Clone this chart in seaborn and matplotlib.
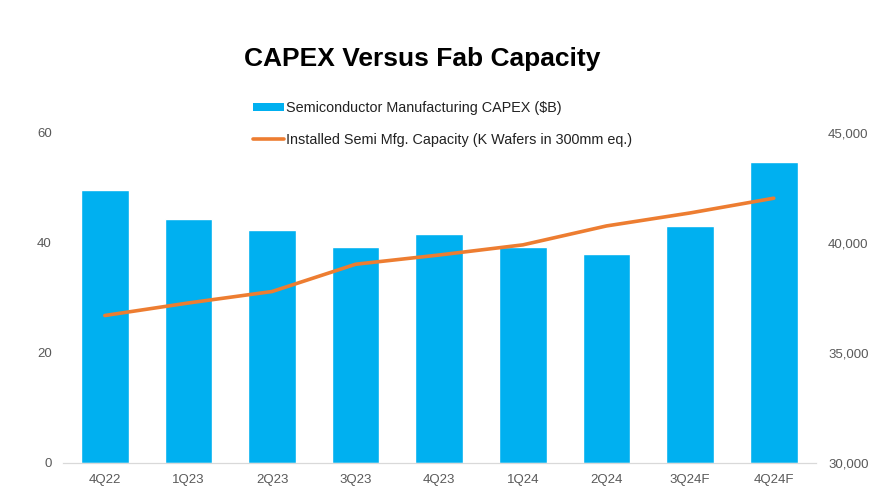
import matplotlib
matplotlib.use("Agg")
import matplotlib.pyplot as plt
import seaborn as sns
import pandas as pd
from matplotlib.patches import Patch
from matplotlib.lines import Line2D
from matplotlib.ticker import FuncFormatter

quarters = ['4Q22', '1Q23', '2Q23', '3Q23', '4Q23', '1Q24', '2Q24', '3Q24F', '4Q24F']
capex = [49.6, 44.4, 42.4, 39.3, 41.6, 39.3, 38.0, 43.1, 54.7]
capacity = [36700, 37270, 37790, 39030, 39450, 39910, 40770, 41360, 42030]

bar_color = '#00B0F0'
line_color = '#ED7D31'
text_gray = '#595959'

df = pd.DataFrame({'Quarter': quarters, 'CAPEX': capex, 'Capacity': capacity})

sns.set_style('white')
plt.rcParams['font.family'] = ['Liberation Sans', 'DejaVu Sans']

fig = plt.figure(figsize=(8.7, 4.92), dpi=100)
ax = fig.add_axes([0.0724, 0.059, 0.865, 0.671])

sns.barplot(data=df, x='Quarter', y='CAPEX', color=bar_color, width=0.57,
            saturation=1, ax=ax)
ax.set_ylim(0, 60)
ax.set_yticks([0, 20, 40, 60])
ax.set_xlim(-0.5, 8.5)

ax2 = ax.twinx()
sns.lineplot(data=df, x='Quarter', y='Capacity', sort=False, color=line_color,
             linewidth=2.6, ax=ax2)
ax2.set_ylim(30000, 45000)
ax2.set_yticks([30000, 35000, 40000, 45000])
ax2.yaxis.set_major_formatter(FuncFormatter(lambda v, p: f'{int(v):,}'))

for a in (ax, ax2):
    a.set_xlabel('')
    a.set_ylabel('')
    for s in ['top', 'left', 'right']:
        a.spines[s].set_visible(False)
    a.spines['bottom'].set_color('#D9D9D9')
    a.tick_params(axis='both', length=0, labelsize=9.5, labelcolor=text_gray)
ax.tick_params(axis='y', pad=8)
ax2.tick_params(axis='y', pad=9)
ax.tick_params(axis='x', pad=8)

fig.suptitle('CAPEX Versus Fab Capacity', x=0.485, y=0.905, fontsize=19,
             fontweight='heavy', color='black')

handles = [Patch(facecolor=bar_color, edgecolor='none'),
           Line2D([0], [0], color=line_color, linewidth=2.6)]
labels = ['Semiconductor Manufacturing CAPEX ($B)',
          'Installed Semi Mfg. Capacity (K Wafers in 300mm eq.)']
fig.legend(handles, labels, loc='upper left', bbox_to_anchor=(0.291, 0.795),
           frameon=False, fontsize=10.4, handlelength=2.1, handleheight=0.5,
           handletextpad=0.15, labelspacing=1.25, labelcolor='#222222',
           borderaxespad=0, borderpad=0)

fig.savefig('out.png', dpi=100)
